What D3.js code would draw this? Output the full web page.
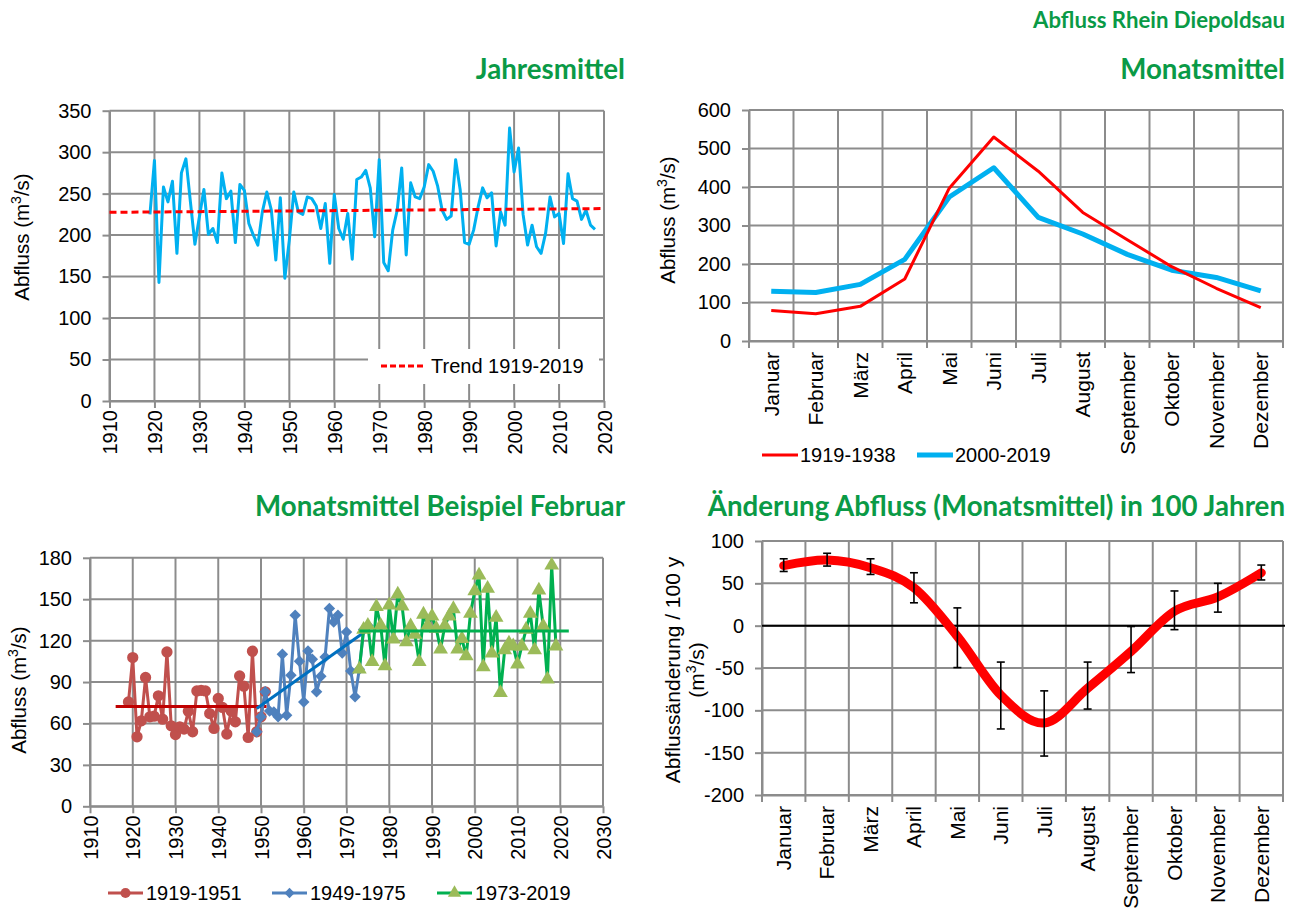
<!DOCTYPE html>
<html>
<head>
<meta charset="utf-8">
<script src="https://cdn.jsdelivr.net/npm/d3@7"></script>
<style>
  body { margin: 0; background: #fff; }
  svg { display: block; font-family: "Liberation Sans", Arial, sans-serif; }
  .title { font-family: Lato, "Open Sans", sans-serif; font-weight: 700; fill: #0a9a46; }
</style>
</head>
<body>
<svg id="chart" width="1304" height="912"></svg>
<script>
// ---------- data ----------
// Annual mean discharge, Rhein at Diepoldsau, 1919-2018 (m3/s)
const annualStartYear = 1919;
const annualValues = [
  225, 290, 143, 258, 240, 265, 178, 275, 292, 240,
  189, 222, 255, 201, 208, 191, 275, 244, 253, 191,
  261, 254, 214, 200, 188, 228, 252, 230, 170, 245,
  148, 194, 252, 228, 225, 246, 244, 235, 208, 238,
  166, 249, 208, 195, 226, 171, 267, 270, 278, 257,
  198, 291, 167, 157, 206, 230, 281, 176, 263, 246,
  244, 258, 285, 277, 259, 230, 219, 223, 291, 255,
  191, 189, 206, 234, 257, 245, 251, 187, 228, 212,
  329, 276, 305, 225, 188, 212, 186, 178, 202, 246,
  222, 226, 190, 274, 244, 241, 219, 230, 212, 207
];
const annualTrendYears = [1910, 2020];
const annualTrendValues = [227.5, 232];
const annualTicksX = [1910, 1920, 1930, 1940, 1950, 1960, 1970, 1980, 1990, 2000, 2010, 2020];
const annualTicksY = [0, 50, 100, 150, 200, 250, 300, 350];

// Monthly means for two periods
const months = ["Januar", "Februar", "März", "April", "Mai", "Juni", "Juli",
                "August", "September", "Oktober", "November", "Dezember"];
const monthly1919_1938 = [79, 71, 90, 161, 397, 530, 441, 334, 263, 193, 137, 87];
const monthly2000_2019 = [129, 126, 147, 212, 374, 450, 321, 278, 225, 184, 165, 130];
const monthlyTicksY = [0, 100, 200, 300, 400, 500, 600];

// February means in three overlapping periods
const febRedStart = 1919;
const febRed = [75.6, 107.7, 50.3, 61.9, 93.3, 64.8, 65.3, 80, 63.1, 111.8,
                58.3, 52, 57.6, 55.9, 68.9, 54, 83.6, 84, 83.6, 67.2,
                56.4, 78.1, 71.6, 52.3, 69.1, 61.2, 94.4, 87, 49.9, 112.3,
                54, 64.8, 82.9];
const febBlueStart = 1949;
const febBlue = [54, 64.8, 82.9, 69.1, 68.4, 64.8, 110.1, 66, 95, 138.3,
                 105, 75.6, 112.5, 106.5, 83, 94.2, 108.2, 143.2, 133.5, 138.3,
                 111, 126.2, 98, 79.3, 99.3, 128, 131];
const febGreenStart = 1973;
const febGreen = [99.3, 128, 131, 104.7, 144.5, 131, 101.6, 145.7, 121, 153.6,
                  145, 119, 130.5, 124.5, 104.7, 139, 131, 137.7, 128.8, 113.7,
                  131, 137.7, 143, 113.7, 121.4, 108.8, 139.7, 156, 167.4, 101,
                  157.8, 110.8, 136.8, 82.3, 113.2, 118, 116, 103, 116, 128,
                  139.7, 113.2, 156.5, 130.5, 92, 174.6, 116];
const febRedTrendYears = [1916, 1951.3];
const febRedTrendValues = [72.2, 72.2];
const febBlueTrendYears = [1949, 1974.8];
const febBlueTrendValues = [70.8, 127.5];
const febGreenTrendYears = [1973, 2022];
const febGreenTrendValues = [126.9, 126.9];
const febTicksX = [1910, 1920, 1930, 1940, 1950, 1960, 1970, 1980, 1990, 2000, 2010, 2020, 2030];
const febTicksY = [0, 30, 60, 90, 120, 150, 180];

// Change in monthly mean discharge over 100 years, with uncertainty range
const changeValues = [71, 77.6, 68.5, 44.7, -12.7, -82, -115, -74, -30.5, 17, 34, 62.5];
const changeHigh   = [79, 85.5, 79, 62.5, 21, -43, -77, -43, -1, 41, 50, 71.6];
const changeLow    = [64, 70.4, 60.5, 27, -49.5, -122, -154, -98.5, -55.4, -4.7, 16, 54];
const changeTicksY = [-200, -150, -100, -50, 0, 50, 100];

// ---------- styles ----------
const GRID = "#8c8c8c";
const TICK_FONT = 20;
const MONTH_FONT = 21;
const svg = d3.select("#chart");
svg.append("rect").attr("width", 1304).attr("height", 912).attr("fill", "#fff");

// plain hyphen for negative numbers, as in spreadsheet output
const plainNum = d => String(d);

function styleAxis(g) {
  g.select(".domain").attr("stroke", GRID).attr("stroke-width", 2);
  g.selectAll(".tick line").attr("stroke", GRID).attr("stroke-width", 2);
  g.selectAll(".tick text").attr("fill", "#000").style("font-size", TICK_FONT + "px")
    .style("font-family", '"Liberation Sans", Arial, sans-serif');
}

function rotateLabels(g, size, offset) {
  g.selectAll(".tick text")
    .attr("transform", "rotate(-90)")
    .attr("x", -offset).attr("y", 0).attr("dy", "0.35em")
    .style("text-anchor", "end")
    .style("font-size", size + "px");
}

function yTitle(x, y, lines, size) {
  const t = svg.append("text")
    .attr("transform", `translate(${x},${y}) rotate(-90)`)
    .attr("text-anchor", "middle")
    .style("font-size", size + "px").attr("fill", "#000");
  lines.forEach((parts, i) => {
    const line = t.append("tspan").attr("x", 0).attr("dy", i === 0 ? 0 : "1.12em");
    parts.forEach(p => {
      if (p.sup) {
        line.append("tspan").attr("baseline-shift", "super")
          .style("font-size", Math.round(size * 0.68) + "px").text(p.text);
      } else {
        line.append("tspan").text(p.text);
      }
    });
  });
  return t;
}
const abflussTitle = [[{text: "Abfluss (m"}, {text: "3", sup: true}, {text: "/s)"}]];

function grid(x0, x1, y0, y1, xs, ys) {
  const g = svg.append("g");
  g.selectAll("line.v").data(xs).join("line")
    .attr("x1", d => d).attr("x2", d => d).attr("y1", y0).attr("y2", y1)
    .attr("stroke", GRID).attr("stroke-width", 2);
  g.selectAll("line.h").data(ys).join("line")
    .attr("x1", x0).attr("x2", x1).attr("y1", d => d).attr("y2", d => d)
    .attr("stroke", GRID).attr("stroke-width", 2);
  return g;
}

// ---------- titles ----------
svg.append("text").attr("class", "title").attr("x", 1285).attr("y", 28)
  .attr("text-anchor", "end").style("font-size", "22.2px").text("Abfluss Rhein Diepoldsau");
svg.append("text").attr("class", "title").attr("x", 625).attr("y", 79)
  .attr("text-anchor", "end").style("font-size", "27.7px").text("Jahresmittel");
svg.append("text").attr("class", "title").attr("x", 1285).attr("y", 79)
  .attr("text-anchor", "end").style("font-size", "27.7px").text("Monatsmittel");
svg.append("text").attr("class", "title").attr("x", 625).attr("y", 516)
  .attr("text-anchor", "end").style("font-size", "27.7px").text("Monatsmittel Beispiel Februar");
svg.append("text").attr("class", "title").attr("x", 1285).attr("y", 516)
  .attr("text-anchor", "end").style("font-size", "27.7px").text("Änderung Abfluss (Monatsmittel) in 100 Jahren");

// ---------- panel 1: annual means ----------
{
  const x = d3.scaleLinear().domain([1910, 2020]).range([109.5, 604]);
  const y = d3.scaleLinear().domain([0, 350]).range([401, 110.7]);
  grid(x(1910), x(2020), y(0), y(350), annualTicksX.map(x), annualTicksY.map(y));

  const ax = svg.append("g").attr("transform", `translate(0,${y(0)})`)
    .call(d3.axisBottom(x).tickValues(annualTicksX).tickFormat(d3.format("d")).tickSize(7).tickSizeOuter(0));
  styleAxis(ax); rotateLabels(ax, TICK_FONT, 9);
  const ay = svg.append("g").attr("transform", `translate(${x(1910)},0)`)
    .call(d3.axisLeft(y).tickValues(annualTicksY).tickFormat(plainNum).tickSize(7).tickPadding(11).tickSizeOuter(0));
  styleAxis(ay);

  const pts = annualValues.map((v, i) => [annualStartYear + i, v]);
  svg.append("path").datum(pts)
    .attr("fill", "none").attr("stroke", "#00b0f0").attr("stroke-width", 3).attr("stroke-linejoin", "round")
    .attr("d", d3.line().x(d => x(d[0])).y(d => y(d[1])));

  const trend = annualTrendYears.map((yr, i) => [yr, annualTrendValues[i]]);
  svg.append("path").datum(trend)
    .attr("fill", "none").attr("stroke", "#ff0000").attr("stroke-width", 3).attr("stroke-dasharray", "7,4")
    .attr("d", d3.line().x(d => x(d[0])).y(d => y(d[1])));

  // legend
  svg.append("rect").attr("x", 368).attr("y", 349).attr("width", 231).attr("height", 35).attr("fill", "#fff");
  svg.append("line").attr("x1", 381).attr("x2", 426).attr("y1", 366).attr("y2", 366)
    .attr("stroke", "#ff0000").attr("stroke-width", 3).attr("stroke-dasharray", "6,3");
  svg.append("text").attr("x", 431).attr("y", 373).style("font-size", TICK_FONT + "px").text("Trend 1919-2019");

  yTitle(29, 237, abflussTitle, 20.5);
}

// ---------- panel 2: monthly means ----------
{
  const x = d3.scaleBand().domain(months).range([749, 1283]);
  const y = d3.scaleLinear().domain([0, 600]).range([341, 110]);
  const edges = months.map(m => x(m)).concat([x.range()[1]]);
  grid(x.range()[0], x.range()[1], y(0), y(600), edges, monthlyTicksY.map(y));

  const ax = svg.append("g").attr("transform", `translate(0,${y(0)})`)
    .call(d3.axisBottom(x).tickSize(0).tickSizeOuter(0));
  styleAxis(ax); rotateLabels(ax, MONTH_FONT, 11);
  svg.append("g").selectAll("line").data(edges).join("line")
    .attr("x1", d => d).attr("x2", d => d).attr("y1", y(0)).attr("y2", y(0) + 7)
    .attr("stroke", GRID).attr("stroke-width", 2);
  const ay = svg.append("g").attr("transform", `translate(${x.range()[0]},0)`)
    .call(d3.axisLeft(y).tickValues(monthlyTicksY).tickFormat(plainNum).tickSize(7).tickPadding(11).tickSizeOuter(0));
  styleAxis(ay);

  const line = d3.line().x((d, i) => x(months[i]) + x.bandwidth() / 2).y(d => y(d));
  svg.append("path").datum(monthly2000_2019).attr("fill", "none").attr("stroke", "#00b0f0")
    .attr("stroke-width", 5).attr("stroke-linejoin", "round").attr("d", line);
  svg.append("path").datum(monthly1919_1938).attr("fill", "none").attr("stroke", "#ff0000")
    .attr("stroke-width", 3).attr("stroke-linejoin", "round").attr("d", line);

  // legend
  svg.append("line").attr("x1", 762).attr("x2", 798).attr("y1", 455).attr("y2", 455)
    .attr("stroke", "#ff0000").attr("stroke-width", 3);
  svg.append("text").attr("x", 800).attr("y", 462).style("font-size", TICK_FONT + "px").text("1919-1938");
  svg.append("line").attr("x1", 917).attr("x2", 953).attr("y1", 455).attr("y2", 455)
    .attr("stroke", "#00b0f0").attr("stroke-width", 5);
  svg.append("text").attr("x", 955).attr("y", 462).style("font-size", TICK_FONT + "px").text("2000-2019");

  yTitle(675, 220, abflussTitle, 20.5);
}

// ---------- panel 3: February means ----------
{
  const x = d3.scaleLinear().domain([1910, 2030]).range([90, 603]);
  const y = d3.scaleLinear().domain([0, 180]).range([806.3, 557.8]);
  grid(x(1910), x(2030), y(0), y(180), febTicksX.map(x), febTicksY.map(y));

  const ax = svg.append("g").attr("transform", `translate(0,${y(0)})`)
    .call(d3.axisBottom(x).tickValues(febTicksX).tickFormat(d3.format("d")).tickSize(7).tickSizeOuter(0));
  styleAxis(ax); rotateLabels(ax, TICK_FONT, 9);
  const ay = svg.append("g").attr("transform", `translate(${x(1910)},0)`)
    .call(d3.axisLeft(y).tickValues(febTicksY).tickFormat(plainNum).tickSize(7).tickPadding(11).tickSizeOuter(0));
  styleAxis(ay);

  const line = d3.line().x(d => x(d[0])).y(d => y(d[1]));
  const series = [
    {start: febRedStart, vals: febRed, line: "#c0504d", fill: "#c0504d", sym: d3.symbolCircle, size: 100, rot: 0},
    {start: febBlueStart, vals: febBlue, line: "#4f81bd", fill: "#4f81bd", sym: d3.symbolSquare, size: 66, rot: 45},
    {start: febGreenStart, vals: febGreen, line: "#00b050", fill: "#9bbb59", sym: d3.symbolTriangle, size: 95, rot: 0}
  ];
  const trends = [
    {yrs: febRedTrendYears, vals: febRedTrendValues, color: "#c00000"},
    {yrs: febBlueTrendYears, vals: febBlueTrendValues, color: "#0070c0"},
    {yrs: febGreenTrendYears, vals: febGreenTrendValues, color: "#00b050"}
  ];
  series.forEach((s, k) => {
    const pts = s.vals.map((v, i) => [s.start + i, v]);
    svg.append("path").datum(pts).attr("fill", "none").attr("stroke", s.line)
      .attr("stroke-width", 3).attr("stroke-linejoin", "round").attr("d", line);
    svg.append("g").selectAll("path").data(pts).join("path")
      .attr("transform", d => `translate(${x(d[0])},${y(d[1])}) rotate(${s.rot})`)
      .attr("d", d3.symbol().type(s.sym).size(s.size)).attr("fill", s.fill);
    const t = trends[k];
    svg.append("path").datum(t.yrs.map((yr, i) => [yr, t.vals[i]]))
      .attr("fill", "none").attr("stroke", t.color).attr("stroke-width", 3).attr("d", line);
  });

  // legend
  const lx = [108, 272, 437];
  const labels = ["1919-1951", "1949-1975", "1973-2019"];
  series.forEach((s, k) => {
    svg.append("line").attr("x1", lx[k]).attr("x2", lx[k] + 35).attr("y1", 893).attr("y2", 893)
      .attr("stroke", s.line).attr("stroke-width", 3);
    svg.append("path").attr("transform", `translate(${lx[k] + 17.5},893) rotate(${s.rot})`)
      .attr("d", d3.symbol().type(s.sym).size(s.size * 0.8)).attr("fill", s.fill);
    svg.append("text").attr("x", lx[k] + 38).attr("y", 900).style("font-size", TICK_FONT + "px").text(labels[k]);
  });

  yTitle(26, 690, abflussTitle, 20.5);
}

// ---------- panel 4: change over 100 years ----------
{
  const x = d3.scaleBand().domain(months).range([762, 1283]);
  const y = d3.scaleLinear().domain([-200, 100]).range([795, 541]);
  const edges = months.map(m => x(m)).concat([x.range()[1]]);
  grid(x.range()[0], x.range()[1], y(-200), y(100), edges, changeTicksY.map(y));

  const ax = svg.append("g").attr("transform", `translate(0,${y(-200)})`)
    .call(d3.axisBottom(x).tickSize(0).tickSizeOuter(0));
  styleAxis(ax); rotateLabels(ax, MONTH_FONT, 11);
  svg.append("g").selectAll("line").data(edges).join("line")
    .attr("x1", d => d).attr("x2", d => d).attr("y1", y(-200)).attr("y2", y(-200) + 7)
    .attr("stroke", GRID).attr("stroke-width", 2);
  const ay = svg.append("g").attr("transform", `translate(${x.range()[0]},0)`)
    .call(d3.axisLeft(y).tickValues(changeTicksY).tickFormat(plainNum).tickSize(7).tickPadding(11).tickSizeOuter(0));
  styleAxis(ay);

  // zero line
  svg.append("line").attr("x1", x.range()[0]).attr("x2", x.range()[1] + 2)
    .attr("y1", y(0)).attr("y2", y(0)).attr("stroke", "#000").attr("stroke-width", 2);

  const cx = i => x(months[i]) + x.bandwidth() / 2;
  svg.append("path").datum(changeValues).attr("fill", "none").attr("stroke", "#ff0000")
    .attr("stroke-width", 9).attr("stroke-linecap", "round").attr("stroke-linejoin", "round")
    .attr("d", d3.line().x((d, i) => cx(i)).y(d => y(d)).curve(d3.curveCardinal.tension(0)));

  const eb = svg.append("g").attr("stroke", "#000").attr("stroke-width", 1.6);
  months.forEach((m, i) => {
    eb.append("line").attr("x1", cx(i)).attr("x2", cx(i)).attr("y1", y(changeHigh[i])).attr("y2", y(changeLow[i]));
    eb.append("line").attr("x1", cx(i) - 4).attr("x2", cx(i) + 4).attr("y1", y(changeHigh[i])).attr("y2", y(changeHigh[i]));
    eb.append("line").attr("x1", cx(i) - 4).attr("x2", cx(i) + 4).attr("y1", y(changeLow[i])).attr("y2", y(changeLow[i]));
  });

  yTitle(680, 670, [[{text: "Abflussänderung / 100 y"}], [{text: "(m"}, {text: "3", sup: true}, {text: "/s)"}]], 21);
}
</script>
</body>
</html>
